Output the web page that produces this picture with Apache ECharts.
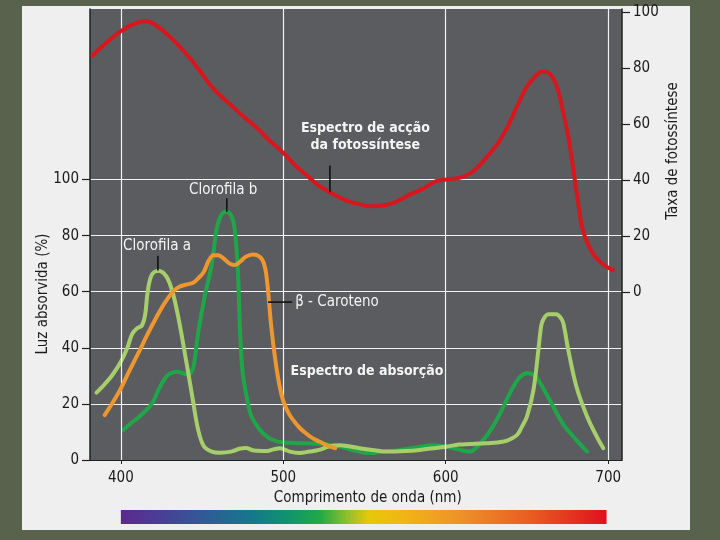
<!DOCTYPE html>
<html><head><meta charset="utf-8">
<script src="https://cdn.jsdelivr.net/npm/echarts@6/dist/echarts.min.js"></script>
<style>
html,body{margin:0;padding:0;background:#58624c;}
#c{width:720px;height:540px;}
</style>
</head><body><div id="c"></div>
<script>
// ---- data ----
const xTicks = [400, 500, 600, 700];
const leftTicks = [0, 20, 40, 60, 80, 100];
const rightTicks = [0, 20, 40, 60, 80, 100];

// Absorption (% light absorbed), [wavelength nm, value]
const chlorophyllA = [[385,24],[390,27],[395,30.5],[400,35],[404,40],[407,45],[410,47],[413,48],[415,52],[416.5,60],[419,66],[423,67.5],[428,65.5],[432,59.5],[436,49],[440,36],[444,22.5],[447.5,11],[451,5],[456,3],[461,2.6],[468,3],[473,4],[477,4.3],[481,3.5],[484,3.3],[490,3.2],[494,3.8],[498,4.2],[504,3],[510,2.5],[516,3],[522,3.6],[528,4.8],[535,5.3],[541,4.8],[547,4.2],[556,3.5],[564,3],[575,3.2],[584,3.6],[594,4.3],[601,4.8],[608,5.5],[615,5.7],[625,6],[635,6.5],[640,7.5],[644,9],[647,12],[650,15.5],[654,25],[657,39],[659,48.5],[661,51],[663,52],[668,52],[671,50.5],[672.5,48.5],[675.5,39],[680.5,26],[687,15.5],[693,8.3],[697,4.2]];
const chlorophyllB = [[401.5,10.7],[406,13],[411.5,15.5],[419,20],[424,26],[429,30.3],[435,31.5],[441,30.5],[443,31],[445,34],[447.5,45],[451.5,58],[455,67],[457,74],[459,82.5],[462,87.5],[465,88.5],[468,87],[470,82.5],[472,68],[473.3,47],[475,31],[478,21],[480,16],[484,12],[488,9.3],[493,7.3],[500,6.2],[510,6],[518,5.9],[527,5.5],[535,4.8],[543,3.5],[553,2.5],[562,3],[572,3.6],[582,4.5],[592,5.3],[598,5],[605,4.2],[611,3.3],[615,3],[619,4.5],[623,7],[628,11],[633.5,16.6],[639.5,23.8],[645.5,29.5],[650.5,31],[654,30.3],[657,28.5],[664,21.4],[672,13],[680.5,7.1],[687,3]];
const betaCarotene = [[390,16],[395,20.5],[399.5,25],[405,31.5],[411.5,39],[417,45.5],[422,51],[427,56],[432,60],[436,61.8],[440,62.5],[444.5,63.2],[448,65],[451,67],[454,71],[457,73],[460,73],[463,72],[467,70],[470,69.5],[473,70.5],[477,72.5],[481,73.3],[484,73],[487,71.5],[489,68],[490.5,61],[492.5,48],[495,36],[497.5,27],[500,21],[503,17],[506,14.3],[510,11.5],[514,9.5],[518,7.8],[522.5,6.5],[527,5.2],[532,4.2]];
// Action spectrum (photosynthesis rate, right axis)
const actionSpectrum = [[382.5,84.5],[390,88.5],[399.5,93],[408,95.8],[415.5,96.8],[421,95.5],[428,92.4],[434,89],[440,85.3],[448,79.5],[455,74],[462,69.8],[469,66.2],[476,62.5],[483.5,58.8],[491,54.5],[500,49.8],[508,45],[514,42],[521,38.5],[529,35.6],[539,32.8],[547,31.5],[553,30.8],[560,31],[568,32],[578,35],[586,37],[594,39.7],[602,40.4],[609,41],[615,42.5],[621,45.5],[627,49.5],[633,54],[638,59],[642,64],[646,69],[650,73.5],[655,77],[659,78.7],[663,78.5],[666,76.5],[669,72.5],[672,65],[675,57],[677,50],[679.5,40],[682,30],[684,23],[687,18],[691,13.5],[695,11],[699,9.2],[703,8]];

// ---- chart ----
const FONT = "'Liberation Sans Narrow','DejaVu Sans Condensed','Roboto',sans-serif";
const chart = echarts.init(document.getElementById('c'), null, {renderer:'canvas'});

function lineSeries(name, data, color, yIdx, z) {
  return {
    name, type:'line', data, xAxisIndex:0, yAxisIndex:yIdx,
    showSymbol:false, smooth:0.35, z,
    lineStyle:{color, width:4, cap:'round', join:'round'},
    itemStyle:{color}, animation:false, silent:true
  };
}

chart.setOption({
  backgroundColor:'transparent',
  animation:false,
  grid:{left:90, right:98, top:9, bottom:80, show:true, backgroundColor:'#5b5c60', borderWidth:0, z:0},
  xAxis:{
    type:'value', min:381, max:708.5,
    axisLine:{show:true, lineStyle:{color:'#222', width:1}},
    axisTick:{show:true, customValues:xTicks, length:4, lineStyle:{color:'#222'}},
    axisLabel:{customValues:xTicks, color:'#1a1a1a', fontFamily:FONT, fontSize:15, margin:11},
    splitLine:{show:false}
  },
  yAxis:[{
    type:'value', position:'left', min:0, max:160.8, interval:20,
    axisLine:{show:true, lineStyle:{color:'#222', width:1.5}},
    axisTick:{show:true, customValues:leftTicks, length:8, lineStyle:{color:'#222', width:1.2}},
    axisLabel:{customValues:leftTicks, color:'#1a1a1a', fontFamily:FONT, fontSize:15, margin:11},
    splitLine:{show:true, lineStyle:{color:'#f2f2f2', width:1.2}}
  },{
    type:'value', position:'right', min:-59.7, max:101.1,
    axisLine:{show:true, lineStyle:{color:'#222', width:1.5}},
    axisTick:{show:true, customValues:rightTicks, length:8, lineStyle:{color:'#222', width:1.2}},
    axisLabel:{customValues:rightTicks, color:'#1a1a1a', fontFamily:FONT, fontSize:15, margin:11},
    splitLine:{show:false}
  }],
  series:[
    {type:'line', data:[], z:1, silent:true, animation:false,
     markLine:{silent:true, symbol:['none','none'], label:{show:false},
       lineStyle:{color:'#f2f2f2', width:1.2, type:'solid'},
       data:xTicks.map(v=>({xAxis:v}))}},
    lineSeries('Clorofila b', chlorophyllB, '#1fa649', 0, 3),
    lineSeries('Clorofila a', chlorophyllA, '#a6cf6c', 0, 4),
    lineSeries('β - Caroteno', betaCarotene, '#f0962e', 0, 5),
    lineSeries('Espectro de acção', actionSpectrum, '#d8161d', 1, 6)
  ]
});

// ---- annotations (anchored in data space) ----
const P = (x, y, yi) => chart.convertToPixel({xAxisIndex:0, yAxisIndex:yi||0}, [x, y]);
const g = [{type:'rect', z:-10, shape:{x:22,y:6,width:668,height:524}, style:{fill:'#efefef'}, silent:true}];
function txt(p, text, opts) {
  g.push(Object.assign({type:'text', x:p[0], y:p[1], z:50, silent:true,
    style:Object.assign({text, fill:'#f4f4f4', font:'15px '+FONT, textAlign:'center', textVerticalAlign:'middle'}, opts||{})}));
}
function seg(a, b) {
  g.push({type:'line', z:50, silent:true, shape:{x1:a[0],y1:a[1],x2:b[0],y2:b[1]}, style:{stroke:'#111', lineWidth:1.6}});
}
// action spectrum label
txt(P(550.5, 118.2), 'Espectro de acção', {font:'bold 14px '+FONT});
txt(P(550.5, 112.2), 'da fotossíntese', {font:'bold 14px '+FONT});
seg(P(528.7, 105), P(528.7, 35.8, 1));
// chlorophyll b
txt(P(463, 96.3), 'Clorofila b', {font:'15px '+FONT});
seg(P(465.2, 93.3), P(465.2, 88.5));
// chlorophyll a
txt(P(422.3, 76.3), 'Clorofila a', {font:'15px '+FONT});
seg(P(422.8, 72.8), P(422.8, 67.6));
// beta carotene
seg(P(490.6, 56.3), P(505.5, 56.3));
txt(P(507.3, 56.3), 'β - Caroteno', {font:'15px '+FONT, textAlign:'left'});
// absorption spectrum label
txt(P(551.5, 31.7), 'Espectro de absorção', {font:'bold 14px '+FONT});

// axis titles
g.push({type:'text', x:43, y:294, rotation:Math.PI/2, z:50, silent:true,
  style:{text:'Luz absorvida (%)', fill:'#1a1a1a', font:'15px '+FONT, textAlign:'center', textVerticalAlign:'middle'}});
g.push({type:'text', x:673, y:151, rotation:Math.PI/2, z:50, silent:true,
  style:{text:'Taxa de fotossíntese', fill:'#1a1a1a', font:'15px '+FONT, textAlign:'center', textVerticalAlign:'middle'}});
const xt = P(552, 0);
g.push({type:'text', x:xt[0], y:498, z:50, silent:true,
  style:{text:'Comprimento de onda (nm)', fill:'#1a1a1a', font:'15px '+FONT, textAlign:'center', textVerticalAlign:'middle'}});

// visible spectrum bar under the axis
const s0 = P(400, 0), s1 = P(699, 0);
g.push({type:'rect', z:40, silent:true, shape:{x:s0[0], y:510, width:s1[0]-s0[0], height:14},
  style:{fill:new echarts.graphic.LinearGradient(0,0,1,0,[
    {offset:0,color:'#5b2a8c'},{offset:0.08,color:'#4a3e96'},{offset:0.18,color:'#2e5d96'},
    {offset:0.27,color:'#15788c'},{offset:0.35,color:'#10966a'},{offset:0.41,color:'#22a947'},
    {offset:0.47,color:'#98c02a'},{offset:0.51,color:'#e6c808'},{offset:0.58,color:'#f1b616'},
    {offset:0.7,color:'#ee9128'},{offset:0.84,color:'#e85e22'},{offset:1,color:'#e0111e'}])}});

chart.setOption({graphic:g});
</script>
</body></html>
